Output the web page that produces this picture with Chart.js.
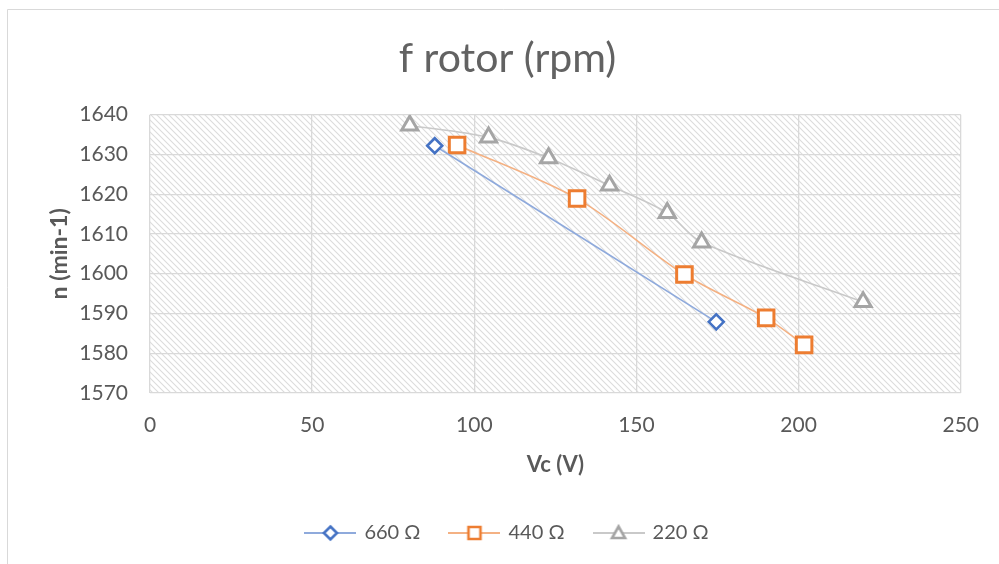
<!DOCTYPE html>
<html>
<head>
<meta charset="utf-8">
<script src="https://cdn.jsdelivr.net/npm/chart.js@4/dist/chart.umd.min.js"></script>
<style>
  html, body { margin: 0; padding: 0; background: #fff; }
  #wrap { width: 999px; height: 564px; position: relative; }
</style>
</head>
<body>
<div id="wrap"><canvas id="c" width="999" height="564"></canvas></div>
<script>
// ---- Data ----
const seriesNames = ['660 Ω', '440 Ω', '220 Ω'];
const vc660 = [87.8, 174.6];
const n660  = [1632.2, 1587.9];
const vc440 = [94.7, 131.7, 164.8, 190.0, 201.7];
const n440  = [1632.4, 1618.9, 1599.8, 1588.9, 1582.1];
const vc220 = [80.1, 104.4, 122.9, 141.7, 159.5, 170.1, 219.9];
const n220  = [1637.3, 1634.3, 1629.1, 1622.2, 1615.3, 1607.9, 1592.9];
const xTicks = [0, 50, 100, 150, 200, 250];
const yTicks = [1570, 1580, 1590, 1600, 1610, 1620, 1630, 1640];
const titleText = 'f rotor (rpm)';
const xTitle = 'Vc (V)';
const yTitle = 'n (min-1)';

const pts = (xs, ys) => xs.map((x, i) => ({ x: x, y: ys[i] }));

const BLUE = '#4472C4', ORANGE = '#ED7D31', GRAY = '#A5A5A5';
const BLUE_L = '#8FAADC', ORANGE_L = '#F4B183', GRAY_L = '#C9C9C9';
const TXT = '#595959';
const FONT = "Lato, 'Open Sans', sans-serif";

// hatch pattern tile
function hatchTile() {
  const t = document.createElement('canvas');
  t.width = 6; t.height = 6;
  const g = t.getContext('2d');
  g.fillStyle = '#ffffff'; g.fillRect(0, 0, 6, 6);
  g.strokeStyle = '#dcdcdc'; g.lineWidth = 1.1;
  g.beginPath();
  g.moveTo(-1, -1); g.lineTo(7, 7);
  g.moveTo(-7, -1); g.lineTo(1, 7);
  g.moveTo(5, -1); g.lineTo(13, 7);
  g.stroke();
  return t;
}

// legend symbol images (line + marker)
function legendImg(lineColor, markColor, shape) {
  const c = document.createElement('canvas');
  c.width = 52; c.height = 20;
  const g = c.getContext('2d');
  g.strokeStyle = lineColor; g.lineWidth = 2;
  g.beginPath(); g.moveTo(0, 10); g.lineTo(52, 10); g.stroke();
  g.fillStyle = '#fff'; g.strokeStyle = markColor; g.lineWidth = 2.6;
  g.beginPath();
  if (shape === 'rectRot') {
    g.moveTo(26, 3.5); g.lineTo(32.5, 10); g.lineTo(26, 16.5); g.lineTo(19.5, 10); g.closePath();
  } else if (shape === 'rect') {
    g.rect(20, 4, 12, 12);
  } else {
    g.moveTo(26, 3.5); g.lineTo(32.5, 15); g.lineTo(19.5, 15); g.closePath();
  }
  g.fill(); g.stroke();
  return c;
}
const legendImgs = [
  legendImg(BLUE_L, BLUE, 'rectRot'),
  legendImg(ORANGE_L, ORANGE, 'rect'),
  legendImg(GRAY_L, GRAY, 'triangle')
];

const bgPlugin = {
  id: 'bgHatch',
  beforeDraw(chart) {
    const { ctx, chartArea: a } = chart;
    ctx.save();
    ctx.fillStyle = '#fff';
    ctx.fillRect(0, 0, chart.width, chart.height);
    ctx.fillStyle = ctx.createPattern(hatchTile(), 'repeat');
    ctx.fillRect(a.left, a.top, a.right - a.left, a.bottom - a.top);
    // outer chart border (only top/left visible in the crop)
    ctx.strokeStyle = '#d9d9d9'; ctx.lineWidth = 1;
    ctx.beginPath();
    ctx.moveTo(7.5, chart.height + 2); ctx.lineTo(7.5, 9.5); ctx.lineTo(chart.width + 2, 9.5);
    ctx.stroke();
    ctx.restore();
  }
};

const ds = (label, data, lineColor, markColor, style, radius, bw) => ({
  label: label,
  data: data,
  showLine: true,
  borderColor: lineColor,
  borderWidth: 1.6,
  tension: 0.3,
  pointStyle: style,
  pointRadius: radius,
  pointHoverRadius: radius,
  pointBackgroundColor: '#ffffff',
  pointBorderColor: markColor,
  pointBorderWidth: bw,
  backgroundColor: '#ffffff'
});

new Chart(document.getElementById('c'), {
  type: 'scatter',
  data: {
    datasets: [
      ds(seriesNames[0], pts(vc660, n660), BLUE_L, BLUE, 'rectRot', 7.5, 2.6),
      ds(seriesNames[1], pts(vc440, n440), ORANGE_L, ORANGE, 'rect', 11, 3),
      ds(seriesNames[2], pts(vc220, n220), GRAY_L, GRAY, 'triangle', 9.3, 3)
    ]
  },
  options: {
    responsive: false,
    animation: false,
    layout: { padding: { left: 53, right: 37, top: 9, bottom: 11 } },
    plugins: {
      title: {
        display: true,
        text: titleText,
        color: '#626262',
        font: { family: FONT, size: 41, weight: 'normal' },
        padding: { top: 25, bottom: 31.5 }
      },
      legend: {
        display: true,
        position: 'bottom',
        labels: {
          usePointStyle: true,
          pointStyleWidth: 48,
          color: TXT,
          font: { family: FONT, size: 20 },
          padding: 30,
          generateLabels(chart) {
            return chart.data.datasets.map((d, i) => ({
              text: d.label,
              pointStyle: legendImgs[i],
              fillStyle: '#fff',
              strokeStyle: d.pointBorderColor,
              lineWidth: 0,
              hidden: false,
              datasetIndex: i,
              fontColor: TXT
            }));
          }
        }
      },
      tooltip: { enabled: false }
    },
    scales: {
      x: {
        type: 'linear',
        min: 0, max: 250,
        afterBuildTicks(s) { s.ticks = xTicks.map(v => ({ value: v })); },
        afterFit(s) { s.height = 100; },
        grid: { color: '#d9d9d9', lineWidth: 1.3, drawTicks: false },
        border: { display: false },
        ticks: { color: TXT, font: { family: FONT, size: 21 }, padding: 20, callback: v => String(v) },
        title: {
          display: true, text: xTitle, color: TXT,
          font: { family: FONT, size: 22, weight: 'bold' },
          padding: { top: 0, bottom: 15 }
        }
      },
      y: {
        type: 'linear',
        min: 1570, max: 1640,
        afterBuildTicks(s) { s.ticks = yTicks.map(v => ({ value: v })); },
        afterFit(s) { s.width = 97; },
        grid: { color: '#d9d9d9', lineWidth: 1.3, drawTicks: false },
        border: { display: false },
        ticks: { color: TXT, font: { family: FONT, size: 21 }, padding: 22, callback: v => String(v) },
        title: {
          display: true, text: yTitle, color: TXT,
          font: { family: FONT, size: 23, weight: 'bold' },
          padding: { top: -7.5, bottom: 0 }
        }
      }
    }
  },
  plugins: [bgPlugin]
});
</script>
</body>
</html>
